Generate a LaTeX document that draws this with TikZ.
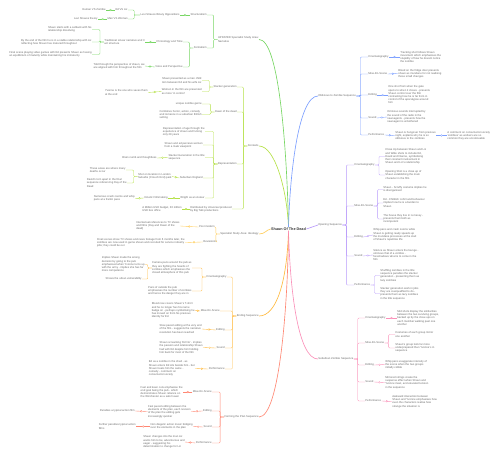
\documentclass[tikz,border=0pt]{standalone}
\usepackage{fontspec}
\setmainfont{Liberation Sans}
\usepackage{xcolor}
\usepackage{tikz}
\usetikzlibrary{positioning}
\definecolor{narrgreen}{RGB}{120,214,100}
\definecolor{ctxlime}{RGB}{180,224,70}
\definecolor{ideoyellow}{RGB}{255,205,90}
\definecolor{endorange}{RGB}{255,186,64}
\definecolor{plansalmon}{RGB}{255,135,115}
\definecolor{subpink}{RGB}{250,145,185}
\definecolor{openpurple}{RGB}{185,155,250}
\definecolor{oblblue}{RGB}{125,160,255}
\definecolor{inkgrey}{RGB}{105,105,105}

\begin{document}
\begin{tikzpicture}[
    x=2pt, y=-2pt,
    txt/.style={font=\fontsize{5.5}{6.4}\selectfont, text=inkgrey, align=left, inner sep=0.6pt},
    lft/.style={txt, anchor=east},
    rgt/.style={txt, anchor=west},
    branch/.style={draw=#1, line width=1.3pt},
    link/.style={draw=#1, line width=0.7pt, rounded corners=2pt},
    knob/.style={circle, draw=#1, fill=white, line width=0.6pt, inner sep=0pt, minimum size=3.6pt}
]
\useasboundingbox (0,0) rectangle (500,459);

% Centre
\node[font=\fontsize{7.5}{9}\selectfont\bfseries, text=black!80, inner sep=1pt] (cen) at (288.5,229) {Shaun Of The Dead};

% Narrative
\node[lft] (nar) at (259,39.5) {UPDATED Specialist Study Area:\\Narrative};
\node[lft] (struc) at (207,15) {Structuralism};
\node[lft] (levi) at (180,15) {Levi Strauss Binary Oppositions};
\node[lft] (edliz) at (128,10) {Ed VS Liz};
\node[lft] (manwom) at (128,19) {Man VS Woman};
\node[lft] (human) at (106,10) {Human VS Zombie};
\node[lft] (levith) at (98,19) {Levi Strauss theory};
\node[lft] (form) at (207,48) {Formalism};
\node[lft] (chron) at (183,42) {Chronology and Time};
\node[lft] (voice) at (183,67) {Voice and Perspective};
\node[lft] (trad) at (145,42) {Traditional Linear narrative and 3\\act structure};
\node[lft] (setback) at (92,29.5) {Shaun starts with a setback with his\\relationship dissolving};
\node[lft] (stable) at (92,42) {By the end of the film he is in a stable relationship with Liz\\reflecting how Shaun has matured throughout};
\node[lft] (videogame) at (92,54.5) {Final scene playing video games with Ed presents Shaun as having\\an equilibrium of maturity while maintaining his immaturity};
\node[lft] (told) at (145,66) {Told through the perspective of shaun, we\\are aligned with him throughout the film};

% Contexts
\node[lft] (ctx) at (259,146) {Contexts};
\node[lft] (slack) at (237,87) {Slacker generation};
\node[lft] (manchild) at (202,80.5) {Shaun presented as a man child\\torn between Ed and his wife Liz};
\node[lft] (women) at (202,91.5) {Women in the film are presented\\as more `in control'};
\node[lft] (yvonne) at (148,92.5) {Yvonne is the one who saves them\\at the end};
\node[lft] (dawn) at (237,112) {Dawn of the dead};
\node[lft] (unique) at (202,104) {unique zombie genre};
\node[lft] (combine) at (202,114.5) {Combines horror, action, comedy\\and romance in a suburban British\\setting};
\node[lft] (rep) at (237,164) {Representation};
\node[lft] (age) at (205,131.5) {Representation of age through the\\experience of shaun and furlong\\only 29 years};
\node[lft] (maleview) at (203,145) {Shaun and ed perceive women\\from a male viewpoint};
\node[lft] (slacktitle) at (205,157.5) {Slacker Generation in the title\\sequence};
\node[lft] (brain) at (157,158) {Brain numb and thoughtless};
\node[lft] (suburb) at (203,178) {Suburban England};
\node[lft] (location) at (172,176.5) {Shot on location in London\\Suburbs (Crouch End) park};
\node[lft] (deaths) at (126,170) {These areas are where many\\deaths occur};
\node[lft] (david) at (127,183) {David's torn apart in the final\\sequence referencing Day of the\\Dead};
\node[lft] (wright) at (205,198) {Wright as an Auteur};
\node[lft] (kinetic) at (168,198) {Kinetic Filmmaking};
\node[lft] (crash) at (135,198.5) {Numerous crash zooms and whip\\pans at a frantic pace};
\node[lft] (univ) at (232,209) {Distributed by Universal produced\\by Big Talk productions};
\node[lft] (budget) at (182,209) {A Million USD budget, 30 million\\USD box office};

% Ideology
\node[lft] (ideo) at (259,234) {Specialist Study Area: Ideology};
\node[lft] (postmod) at (215,227) {Post modern};
\node[lft] (revis) at (217,242) {Revisionist};
\node[lft] (intertext) at (180,226) {Intertextual references to TV shows\\and films (Day and Dawn of the\\dead)};
\node[lft] (newsfoot) at (185,242.5) {Final scenes show TV shows and news footage from 6 months later, the\\zombies are now used in game shows and recruited for service industry\\jobs; they could be out};

% Ending sequence
\node[lft] (ending) at (259,316) {Ending Sequence};
\node[lft] (ecine) at (227,277) {Cinematography};
\node[lft] (pubpans) at (192,268) {Camera pans around the pub as\\they are fighting the hoards of\\zombies which emphasises the\\closed atmosphere of this pub};
\node[lft] (outside) at (192,291) {Pans of outside the pub\\emphasises the number of zombies\\and hence the danger they are in};
\node[lft] (wrongpub) at (145,264.5) {Implies Shaun made the wrong\\decision by going to the pub\\emphasised when Yvonne turns up\\with the army - implies she has far\\more competence};
\node[lft] (urban) at (142,279) {Shows the urban vulnerability};
\node[lft] (emise) at (220,311) {Mise-En-Scene};
\node[lft] (blood) at (195,310.5) {Blood now covers Shaun's T-shirt\\and he no longer has his name\\badge on - perhaps symbolising he\\has moved on from his previous\\identity for Ed};
\node[lft] (eedit) at (225,330) {Editing};
\node[lft] (slowpace) at (202,329) {Slow paced editing at the very end\\of the film - suggests the narrative\\resolution has been reached};
\node[lft] (esound) at (225,348) {Sound};
\node[lft] (scream) at (203,347.5) {Shaun screaming `Ed No' - implies\\the passion and relationship Shaun\\had with Ed despite him holding\\him back for most of the film};
\node[lft] (eperf) at (225,369) {Performance};
\node[lft] (shed) at (195,368.5) {Ed as a zombie in the shed - as\\Shaun enters Ed sits beside him - but\\Shaun treats him the same -\\comedy - comment on\\consumerist society};

% Forming the plan
\node[lft] (plan) at (259,417) {Forming the Plan Sequence};
\node[lft] (pmise) at (212,392) {Mise-En-Scene};
\node[lft] (safehaven) at (183,392) {Fast and keen cuts emphasise the\\end goal being the pub - which\\demonstrates Shaun reliance on\\the Winchester as a safe haven};
\node[lft] (pedit) at (212,411) {Editing};
\node[lft] (revision) at (191,411.5) {Fast paced editing between the\\elements of the plan, each revision\\of the plan the editing gets\\increasingly quicker};
\node[lft] (actfilm) at (135,411) {Parodies a typical action film};
\node[lft] (psound) at (212,427) {Sound};
\node[lft] (music) at (193,426.5) {Non diegetic action music bridging\\over the elements in the plan};
\node[lft] (parody) at (136,426.5) {Further parodies typical action\\films};
\node[lft] (pperf) at (212,443) {Performance};
\node[lft] (manliz) at (185,442) {Shaun changes into the man Liz\\wants him to be, adventurous and\\eager - suggesting his\\determination to change for Liz};

% Oblivious to zombie
\node[rgt] (obliv) at (318,96) {Oblivious to Zombie Sequence};
\node[rgt] (ocine) at (368,57) {Cinematography};
\node[rgt] (tracking) at (400,57) {Tracking shot follows Shaun\\movement which emphasises the\\stupidity of how he doesnt notice\\the zombie};
\node[rgt] (omise) at (368,74) {Mise-En-Scene};
\node[rgt] (fridge) at (398,73.5) {Blood on the fridge door presents\\shaun as mundane for not realising\\those small changes};
\node[rgt] (oedit) at (368,95) {Editing};
\node[rgt] (oneshot) at (388,95) {One shot from when the gate\\opens to when it closes - presents\\Shaun control over the film\\contrasting how he is far from in\\control of the apocalypse around\\him};
\node[rgt] (osound) at (368,118) {Sound};
\node[rgt] (radio) at (387,117) {Ominous sounds interrupted by\\the sound of the radio in the\\newsagents - presents how the\\newsagent is unbothered};
\node[rgt] (operf) at (368,135) {Performance};
\node[rgt] (hungover) at (395,135.5) {Shaun is hungover from previous\\night, explains why he is so\\oblivious to the zombies};
\node[rgt] (consumer) at (447,135.5) {A comment on consumerist society\\`zombies' as workers are so\\common they are unnoticeable};

% Opening sequence
\node[rgt] (open) at (318,225) {Opening Sequence};
\node[rgt] (opcine) at (354,165) {Cinematography};
\node[rgt] (closeup) at (385,156.5) {Close Up between Shaun and Liz\\and Wide shots to include Ed,\\David and Dianne, symbolising\\their constant involvement in\\Shaun and Liz's relationship};
\node[rgt] (firstshot) at (385,175) {Opening Shot is a close up of\\Shaun establishing the main\\character in the film};
\node[rgt] (opmise) at (354,206) {Mise-En-Scene};
\node[rgt] (scruffy) at (383,189.5) {Shaun - Scruffy costume implies he\\is disorganised};
\node[rgt] (childish) at (383,203) {Ed - Childish t-shirt and behaviour\\implies how he is a burden to\\Shaun};
\node[rgt] (messy) at (383,219) {The house they live in is messy -\\presents them both as\\incompetent};
\node[rgt] (opedit) at (354,237) {Editing};
\node[rgt] (whippans) at (373,235) {Whip pans and crash zooms while\\Shaun is getting ready speeds up\\the mundane processes at the start\\of Shaun's repetitive life};
\node[rgt] (opsound) at (354,256) {Sound};
\node[rgt] (lounge) at (373,255) {Silence as Shaun enters the lounge -\\ominous that of a zombie -\\foreshadows what is to come in the\\film};
\node[rgt] (opperf) at (354,285) {Performance};
\node[rgt] (shuffling) at (380,275.5) {Shuffling zombies in the title\\sequence parodies the slacker\\generation - presenting them as\\lazy zombies};
\node[rgt] (overqual) at (380,293.5) {Slacker generation work in jobs\\they are overqualified to do -\\presents them as lazy zombies\\in the title sequence};

% Suburban zombie
\node[rgt] (suburbseq) at (318,359) {Suburban Zombie Sequence};
\node[rgt] (scine) at (365,318) {Cinematography};
\node[rgt] (midshots) at (397,318) {Mid shots display the similarities\\between the two surviving groups,\\backed up by the close ups on\\each member walking past one\\another};
\node[rgt] (smise) at (365,343) {Mise-En-Scene};
\node[rgt] (costumes) at (395,334.5) {Costumes of each group mirror\\one another};
\node[rgt] (underprep) at (395,348) {Shaun's group look far more\\underprepared than Yvonne's in\\sequence};
\node[rgt] (sedit) at (365,365) {Editing};
\node[rgt] (collide) at (385,364.5) {Whip pans exaggerate intensity of\\the scene when the two groups\\initially collide};
\node[rgt] (ssound) at (365,382) {Sound};
\node[rgt] (strings) at (385,382.5) {Mirrored strings create the\\suspense effect when Shaun and\\Yvonne meet, and elevated tension\\in the sequence};
\node[rgt] (sperf) at (365,401) {Performance};
\node[rgt] (awkward) at (392,401.5) {Awkward interaction between\\Shaun and Yvonne emphasises how\\even the characters realise how\\strange the situation is};

% Main branches
\draw[branch=narrgreen] (nar.east) .. controls (279,39) and (287,150) .. (cen.north);
\draw[branch=ctxlime] (ctx.east) .. controls (275,146) and (287,190) .. (cen.north);
\draw[branch=oblblue] (obliv.west) .. controls (299,96) and (290,170) .. (cen.north);
\draw[branch=ideoyellow] (ideo.east) .. controls (265,234) and (266,230) .. (cen.west);
\draw[branch=openpurple] (cen.east) -- (open.west);
\draw[branch=endorange] (ending.east) .. controls (277,316) and (287,280) .. (cen.south);
\draw[branch=plansalmon] (plan.east) .. controls (280,417) and (288,300) .. (cen.south);
\draw[branch=subpink] (suburbseq.west) .. controls (298,359) and (290,290) .. (cen.south);

% Narrative links
\foreach \c in {struc,form} \draw[link=narrgreen] (nar.west) -- ++(-4,0) |- (\c.east);
\foreach \c in {edliz,manwom} \draw[link=narrgreen] (levi.west) -- ++(-6,0) |- (\c.east);
\foreach \c in {chron,voice} \draw[link=narrgreen] (form.west) -- ++(-4,0) |- (\c.east);
\foreach \c in {setback,stable,videogame} \draw[link=narrgreen] (trad.west) -- ++(-4,0) |- (\c.east);
\draw[link=narrgreen] (struc.west) -- node[knob=narrgreen]{} (levi.east);
\draw[link=narrgreen] (edliz.west) -- node[knob=narrgreen]{} (human.east);
\draw[link=narrgreen] (manwom.west) -- node[knob=narrgreen]{} (levith.east);
\draw[link=narrgreen] (chron.west) -- node[knob=narrgreen]{} (trad.east);
\draw[link=narrgreen] (voice.west) -- node[knob=narrgreen]{} (told.east);

% Context links
\foreach \c in {slack,dawn,rep,univ} \draw[link=ctxlime] (ctx.west) -- ++(-4,0) |- (\c.east);
\foreach \c in {manchild,women} \draw[link=ctxlime] (slack.west) -- ++(-4,0) |- (\c.east);
\foreach \c in {unique,combine} \draw[link=ctxlime] (dawn.west) -- ++(-4,0) |- (\c.east);
\foreach \c in {age,maleview,slacktitle,suburb,wright} \draw[link=ctxlime] (rep.west) -- ++(-4,0) |- (\c.east);
\foreach \c in {deaths,david} \draw[link=ctxlime] (location.west) -- ++(-4,0) |- (\c.east);
\draw[link=ctxlime] (women.west) -- node[knob=ctxlime]{} (yvonne.east);
\draw[link=ctxlime] (slacktitle.west) -- node[knob=ctxlime]{} (brain.east);
\draw[link=ctxlime] (suburb.west) -- node[knob=ctxlime]{} (location.east);
\draw[link=ctxlime] (wright.west) -- node[knob=ctxlime]{} (kinetic.east);
\draw[link=ctxlime] (kinetic.west) -- node[knob=ctxlime]{} (crash.east);
\draw[link=ctxlime] (univ.west) -- node[knob=ctxlime]{} (budget.east);

% Ideology links
\foreach \c in {postmod,revis} \draw[link=ideoyellow] (ideo.west) -- ++(-4,0) |- (\c.east);
\draw[link=ideoyellow] (postmod.west) -- node[knob=ideoyellow]{} (intertext.east);
\draw[link=ideoyellow] (revis.west) -- node[knob=ideoyellow]{} (newsfoot.east);

% Ending links
\foreach \c in {ecine,emise,eedit,esound,eperf} \draw[link=endorange] (ending.west) -- ++(-4,0) |- (\c.east);
\foreach \c in {pubpans,outside} \draw[link=endorange] (ecine.west) -- ++(-4,0) |- (\c.east);
\foreach \c in {wrongpub,urban} \draw[link=endorange] (pubpans.west) -- ++(-4,0) |- (\c.east);
\draw[link=endorange] (emise.west) -- node[knob=endorange]{} (blood.east);
\draw[link=endorange] (eedit.west) -- node[knob=endorange]{} (slowpace.east);
\draw[link=endorange] (esound.west) -- node[knob=endorange]{} (scream.east);
\draw[link=endorange] (eperf.west) -- node[knob=endorange]{} (shed.east);

% Plan links
\foreach \c in {pmise,pedit,psound,pperf} \draw[link=plansalmon] (plan.west) -- ++(-4,0) |- (\c.east);
\draw[link=plansalmon] (pmise.west) -- node[knob=plansalmon]{} (safehaven.east);
\draw[link=plansalmon] (pedit.west) -- node[knob=plansalmon]{} (revision.east);
\draw[link=plansalmon] (revision.west) -- node[knob=plansalmon]{} (actfilm.east);
\draw[link=plansalmon] (psound.west) -- node[knob=plansalmon]{} (music.east);
\draw[link=plansalmon] (music.west) -- node[knob=plansalmon]{} (parody.east);
\draw[link=plansalmon] (pperf.west) -- node[knob=plansalmon]{} (manliz.east);

% Oblivious links
\foreach \c in {ocine,omise,oedit,osound,operf} \draw[link=oblblue] (obliv.east) -- ++(4,0) |- (\c.west);
\draw[link=oblblue] (ocine.east) -- node[knob=oblblue]{} (tracking.west);
\draw[link=oblblue] (omise.east) -- node[knob=oblblue]{} (fridge.west);
\draw[link=oblblue] (oedit.east) -- node[knob=oblblue]{} (oneshot.west);
\draw[link=oblblue] (osound.east) -- node[knob=oblblue]{} (radio.west);
\draw[link=oblblue] (operf.east) -- node[knob=oblblue]{} (hungover.west);
\draw[link=oblblue] (hungover.east) -- node[knob=oblblue]{} (consumer.west);

% Opening links
\foreach \c in {opcine,opmise,opedit,opsound,opperf} \draw[link=openpurple] (open.east) -- ++(4,0) |- (\c.west);
\foreach \c in {closeup,firstshot} \draw[link=openpurple] (opcine.east) -- ++(4,0) |- (\c.west);
\foreach \c in {scruffy,childish,messy} \draw[link=openpurple] (opmise.east) -- ++(4,0) |- (\c.west);
\foreach \c in {shuffling,overqual} \draw[link=openpurple] (opperf.east) -- ++(4,0) |- (\c.west);
\draw[link=openpurple] (opedit.east) -- node[knob=openpurple]{} (whippans.west);
\draw[link=openpurple] (opsound.east) -- node[knob=openpurple]{} (lounge.west);

% Suburban links
\foreach \c in {scine,smise,sedit,ssound,sperf} \draw[link=subpink] (suburbseq.east) -- ++(4,0) |- (\c.west);
\foreach \c in {costumes,underprep} \draw[link=subpink] (smise.east) -- ++(4,0) |- (\c.west);
\draw[link=subpink] (scine.east) -- node[knob=subpink]{} (midshots.west);
\draw[link=subpink] (sedit.east) -- node[knob=subpink]{} (collide.west);
\draw[link=subpink] (ssound.east) -- node[knob=subpink]{} (strings.west);
\draw[link=subpink] (sperf.east) -- node[knob=subpink]{} (awkward.west);

\end{tikzpicture}
\end{document}
